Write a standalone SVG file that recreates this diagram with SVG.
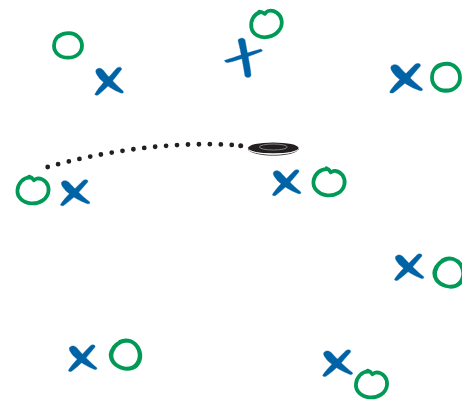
<svg xmlns="http://www.w3.org/2000/svg" width="462" height="401" viewBox="0 0 462 401">
<style>
.x{fill:#0063a6;stroke:#0063a6;stroke-width:0.400;stroke-linejoin:round}
.o{fill:none;stroke:#009a56;stroke-width:3.800;stroke-linecap:round;stroke-linejoin:round}
</style>
<defs>
<path id="h" d="M-4,-12.800C-11,-12 -15.500,-6 -15.500,1C-15.500,8 -9,13 -1,13C8,13 15.500,7 15.500,-1C15.500,-8 10,-12.800 4,-12.500C2,-12.300 1,-11 0,-10.300C-1,-11.500 -2.500,-13 -5,-13.500"/>
<path id="p" d="M-5,-11.500C-11,-10 -14,-5 -14,0C-14,7 -8,12 0,12C8,12 14,7 14,0C14,-7 8,-12.500 1,-12.500C-3,-12.500 -6,-12 -9,-9.500"/>
<path id="e" d="M-4,-13C-9,-10 -12,-4 -12,2C-12,9 -7,14 0,14C7,14 12,9 12,1C12,-6 7,-13.500 0,-14C-3,-14 -6,-12.500 -8,-10"/>
<g id="cross" class="x">
<path d="M-14,13C-12,9 -7,3 -3,-1C1,-5 5,-10 8,-13C10,-14.500 13,-14 12.500,-11.500C9,-7 5,-2 2,2C-2,6 -6,10 -11,14C-13,14.500 -14.500,14 -14,13Z"/>
<path d="M-13,-11C-11,-13.500 -8,-13 -6,-11C-2,-6 6,3 14,10C15,11.500 14,12.500 12,12C4,9 -3,4 -9,-2C-11,-5 -14,-8 -13,-11Z"/>
</g>
</defs>
<rect width="462" height="401" fill="#fff"/>
<g id="connectors">
<path d="M47.700,167C100,152 170,141 233,145" fill="none" stroke="#231f20" stroke-width="4.800" stroke-linecap="round" stroke-dasharray="0 10.950"/>
<circle cx="240.700" cy="145.700" r="2.500" fill="#231f20"/>
</g>
<g id="puck">
<ellipse cx="273.300" cy="148" rx="25.300" ry="5.500" fill="#231f20"/>
<path d="M248,149.500C252,153.500 264,155.200 273.300,155.200C283,155.200 295,153.500 298.500,149.500" fill="none" stroke="#231f20" stroke-width="0.900"/>
<path d="M248.500,150.200C254,153 265,154 273.300,154C282,154 293,153 298,150.200" fill="none" stroke="#fff" stroke-width="0.800"/>
<ellipse cx="273.300" cy="147" rx="14" ry="3" fill="none" stroke="#aaa" stroke-width="0.700"/>
</g>
<g id="o1"><use href="#p" class="o" transform="translate(68,45.700)"/></g>
<g id="x1"><use href="#cross" transform="translate(109,81)"/></g>
<g id="o2"><use href="#h" class="o" transform="translate(266.500,24) rotate(-10)"/></g>
<g id="x2" class="x"><path d="M238,40C240,37.500 244,37.500 245,40C247,52 250,64 251,75C251,78 246,78 245,76C243,64 241,52 238,40Z"/><path d="M224.500,60.500C235,57 250,52 261,49L262.500,51C255,54 240,60 228,62.500C226,62.500 225,62 224.500,60.500Z"/></g>
<g id="o3"><use href="#p" class="o" transform="translate(446,77.500) scale(1,1.100)"/></g>
<g id="x3"><use href="#cross" transform="translate(406,78) scale(1.150,1.050)"/></g>
<g id="o4"><use href="#h" class="o" transform="translate(33,190.500) rotate(5)"/></g>
<g id="x4"><use href="#cross" transform="translate(75,192.500) scale(1.030,0.930)"/></g>
<g id="o5"><use href="#h" class="o" transform="translate(329,182.500) rotate(10)"/></g>
<g id="x5"><use href="#cross" transform="translate(286.500,182.500) scale(1,0.930)"/></g>
<g id="o6"><use href="#e" class="o" transform="translate(449.500,272.500) rotate(15) scale(1.200,1)"/></g>
<g id="x6"><use href="#cross" transform="translate(409,267) scale(1.030,0.950)"/></g>
<g id="o7"><use href="#e" class="o" transform="translate(126,354.500) rotate(20) scale(1.200,1)"/></g>
<g id="x7"><use href="#cross" transform="translate(82.500,358) scale(1,0.950)"/></g>
<g id="o8"><use href="#h" class="o" transform="translate(371.500,384.500) rotate(5)"/></g>
<g id="x8"><use href="#cross" transform="translate(337.500,363) scale(1.050,0.950)"/></g>
</svg>
